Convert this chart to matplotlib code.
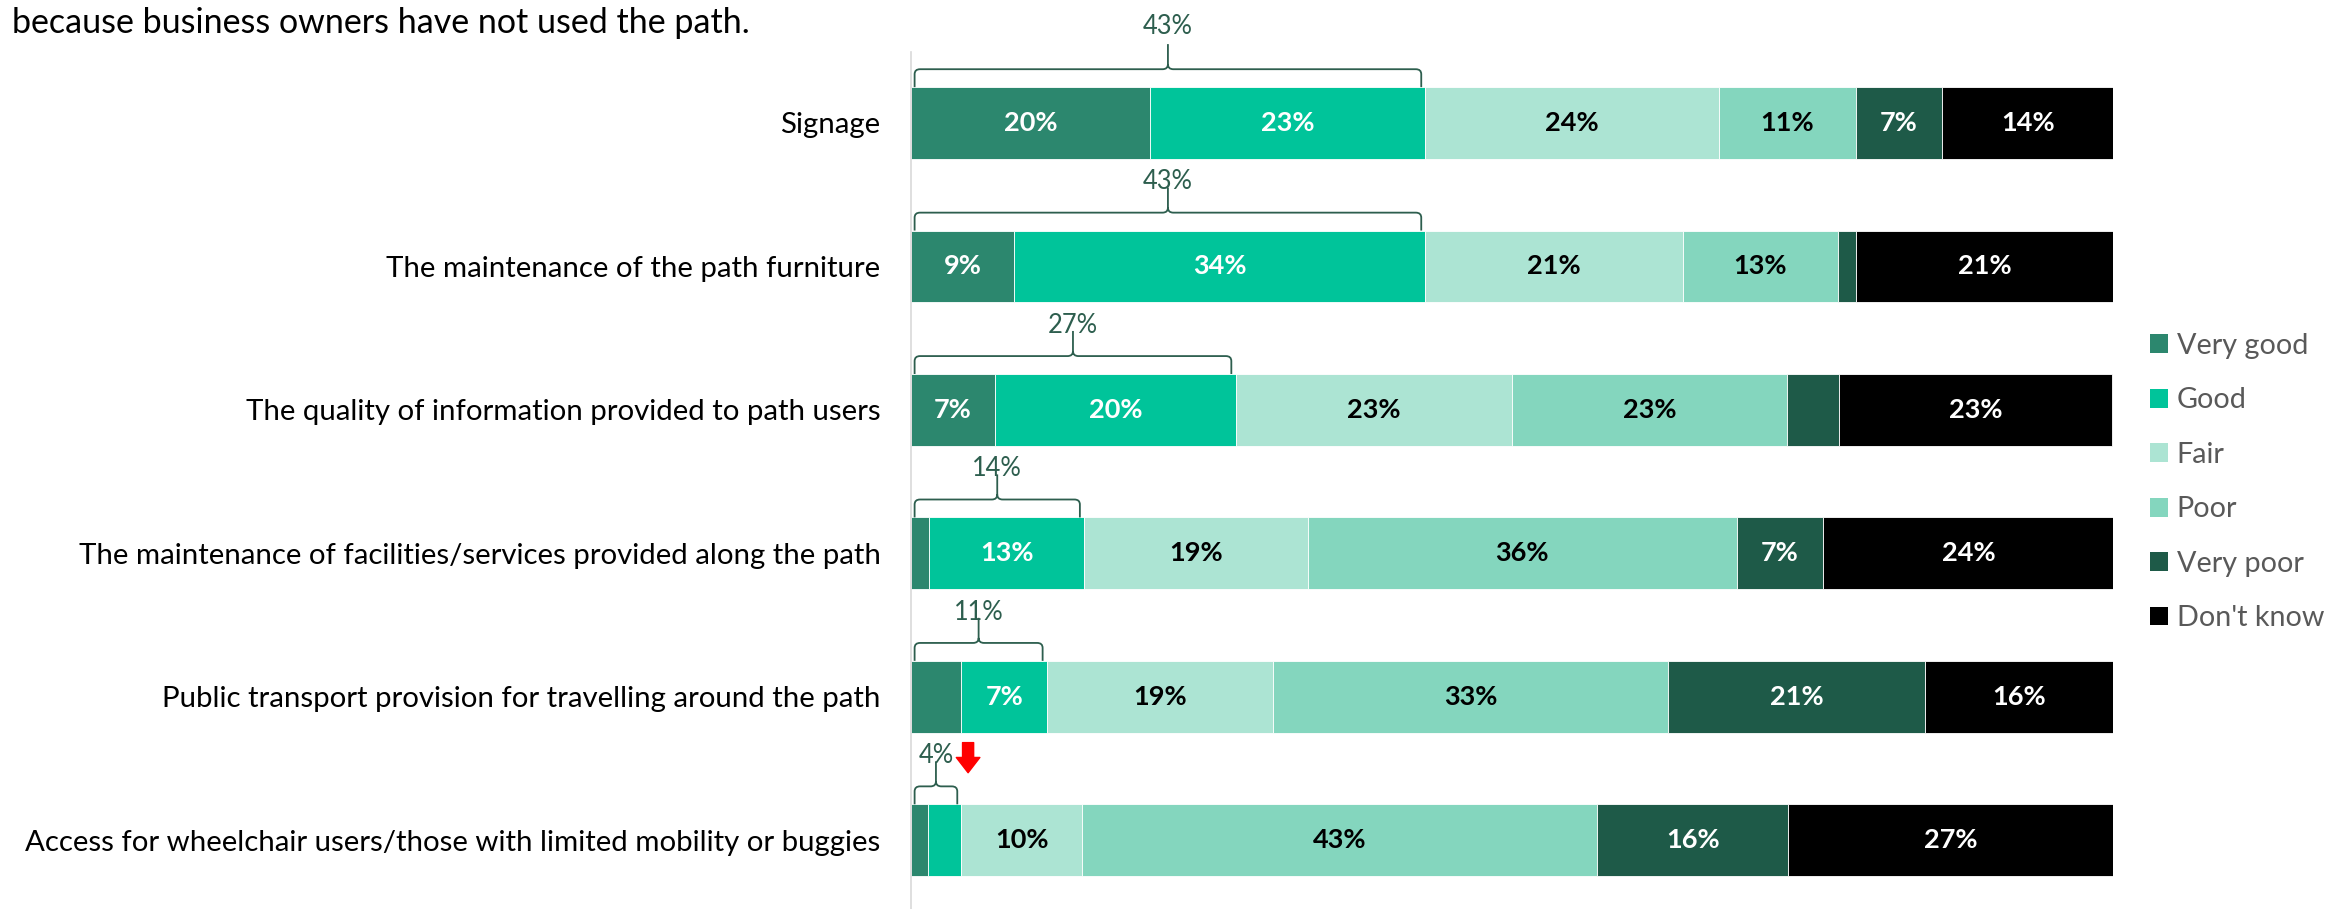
import matplotlib
matplotlib.use("Agg")
from matplotlib import pyplot as plt
from matplotlib.path import Path
from matplotlib.patches import PathPatch, Patch
import numpy as np

plt.rcParams['font.family'] = ['Lato', 'DejaVu Sans']

categories = [
    "Signage",
    "The maintenance of the path furniture",
    "The quality of information provided to path users",
    "The maintenance of facilities/services provided along the path",
    "Public transport provision for travelling around the path",
    "Access for wheelchair users/those with limited mobility or buggies",
]
ratings = ["Very good", "Good", "Fair", "Poor", "Very poor", "Don't know"]

very_good = [19.9, 8.6, 7.0, 1.5, 4.2, 1.4]
good = [22.9, 34.2, 20.0, 12.9, 7.1, 2.8]
fair = [24.4, 21.4, 23.0, 18.6, 18.8, 10.0]
poor = [11.4, 12.9, 22.9, 35.7, 32.9, 42.9]
very_poor = [7.2, 1.5, 4.3, 7.2, 21.4, 15.9]
dont_know = [14.2, 21.4, 22.7, 24.2, 15.6, 27.0]

series = [very_good, good, fair, poor, very_poor, dont_know]
colors = ["#2C876E", "#00C49A", "#ACE4D3", "#84D6BE", "#1E5A48", "#000000"]
text_colors = ["white", "white", "black", "black", "white", "white"]
bracket_color = "#2D5E4E"

W, H = 2328, 909
fig = plt.figure(figsize=(W / 100, H / 100), dpi=100)
ax = fig.add_axes([911 / W, 0, 1202 / W, 1 - 52 / H])

y = np.arange(len(categories))
left = np.zeros(len(categories))
for vals, col, tcol in zip(series, colors, text_colors):
    vals = np.array(vals)
    ax.barh(y, vals, left=left, height=0.5, color=col, edgecolor="white", linewidth=0.6)
    for yi, (l, v) in enumerate(zip(left, vals)):
        if v >= 5:
            ax.text(l + v / 2, yi, f"{v:.0f}%", ha="center", va="center",
                    color=tcol, fontsize=19.5, fontweight="bold")
    left += vals

ax.set_xlim(0, 100)
ax.set_ylim(5.48, -0.495)
ax.set_xticks([])
ax.set_yticks(y)
ax.set_yticklabels(categories, fontsize=21.2)
ax.tick_params(axis="y", length=0, pad=22)
for s in ["top", "right", "bottom"]:
    ax.spines[s].set_visible(False)
ax.spines["left"].set_color("#D9D9D9")
ax.spines["left"].set_linewidth(1.2)


# curly bracket over the positive (very good + good) share
def bracket(ax, x0, x1, yc):
    yb = yc - 0.25
    yh = yb - 0.125
    ys = yb - 0.30
    xm = (x0 + x1) / 2
    rx, ry = 0.45, 0.035
    verts = [
        (x0, yb), (x0, yh + ry), (x0, yh), (x0 + rx, yh), (xm - rx, yh),
        (xm, yh), (xm, yh - ry), (xm, ys),
        (xm, yh - ry), (xm, yh), (xm + rx, yh), (x1 - rx, yh),
        (x1, yh), (x1, yh + ry), (x1, yb),
    ]
    codes = [
        Path.MOVETO, Path.LINETO, Path.CURVE3, Path.CURVE3, Path.LINETO,
        Path.CURVE3, Path.CURVE3, Path.LINETO,
        Path.MOVETO, Path.CURVE3, Path.CURVE3, Path.LINETO,
        Path.CURVE3, Path.CURVE3, Path.LINETO,
    ]
    ax.add_patch(PathPatch(Path(verts, codes), fill=False, edgecolor=bracket_color,
                           linewidth=1.3, clip_on=False))
    return xm, ys


for yi, (vg, g) in enumerate(zip(very_good, good)):
    total = vg + g
    xm, ys = bracket(ax, 0.3, total - 0.35, yi)
    lift = 0.12 if yi == 0 else 0.04
    ax.text(xm, ys - lift, f"{total:.0f}%", ha="center", va="center",
            color=bracket_color, fontsize=18.4, clip_on=False)

# red marker next to the lowest positive share
last = len(categories) - 1
ax_x = very_good[last] + good[last] + 0.55
ax.annotate("", xy=(ax_x, last - 0.25 - 0.22), xytext=(ax_x, last - 0.25 - 0.43),
            arrowprops=dict(arrowstyle="simple,head_length=0.55,head_width=0.85,tail_width=0.4",
                            color="red", mutation_scale=20, shrinkA=0, shrinkB=0))

handles = [Patch(facecolor=c, edgecolor="none") for c in colors]
fig.legend(handles, ratings, loc="center left", bbox_to_anchor=(2150 / W, 1 - 482 / H),
           frameon=False, fontsize=20.7, labelcolor="#595959",
           handlelength=0.63, handleheight=0.63, handletextpad=0.3, labelspacing=0.99,
           borderpad=0, borderaxespad=0)

fig.text(12 / W, 1 - 23 / H, "because business owners have not used the path.",
         fontsize=24.5, va="center", ha="left", color="black")

fig.savefig("out.png", dpi=100)
